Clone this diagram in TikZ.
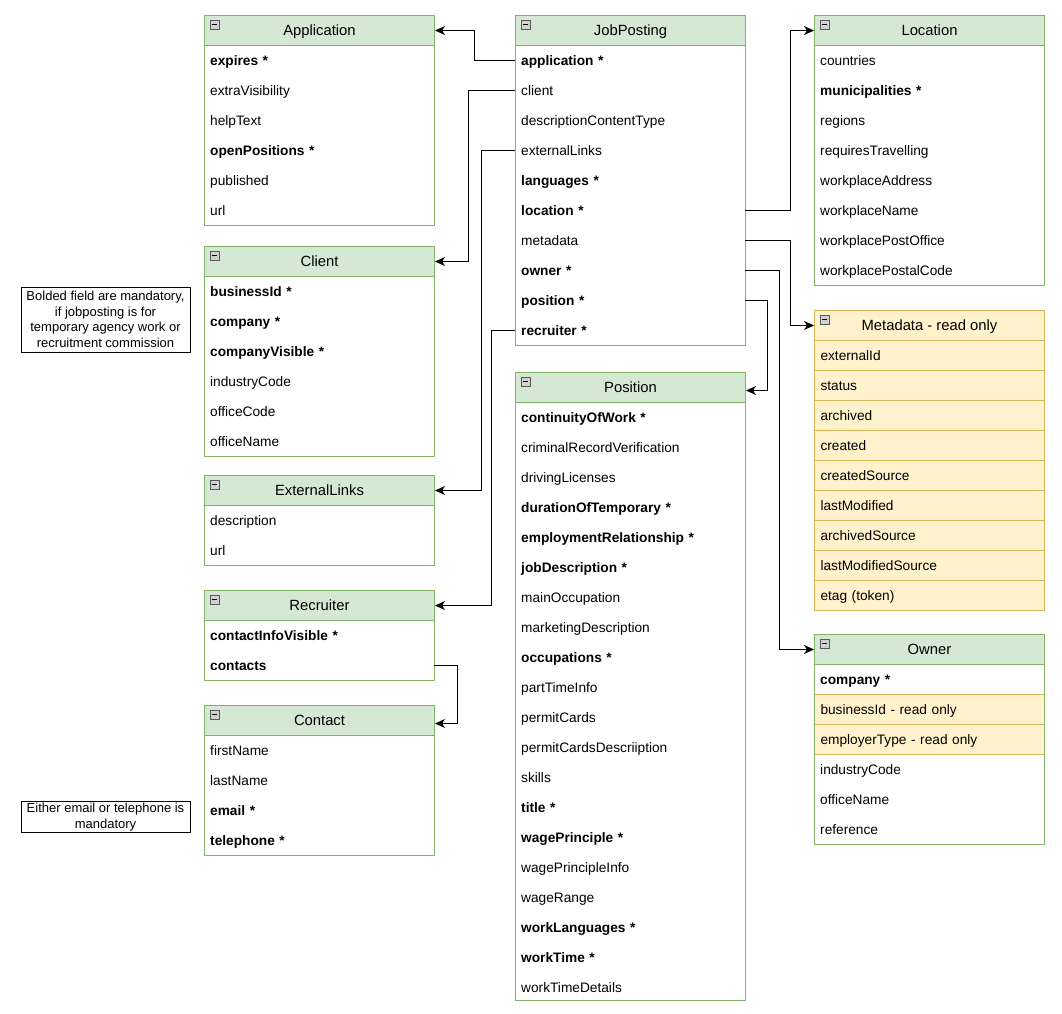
\documentclass[tikz,border=0pt]{standalone}
\usepackage{fontspec}
\setmainfont{Liberation Sans}
\usetikzlibrary{arrows.meta,positioning}
\definecolor{hdfill}{HTML}{D5E8D4}
\definecolor{hdline}{HTML}{82B366}
\definecolor{rofill}{HTML}{FFF2CC}
\definecolor{roline}{HTML}{D6B656}
\tikzset{
  boxln/.style={draw=hdline, line width=1pt},
  hd/.style={boxln, fill=hdfill, minimum width=230pt, minimum height=30pt,
    anchor=north west, inner sep=0pt, text height=12pt, text depth=1.5pt,
    font=\fontsize{14.8}{17}\selectfont},
  rohd/.style={hd, draw=roline, fill=rofill},
  fld/.style={minimum width=230pt, minimum height=30pt, text width=218pt,
    inner xsep=6pt, inner ysep=0pt, align=left, anchor=north west,
    text height=12pt, text depth=1.5pt, font=\fontsize{13.7}{16}\selectfont},
  rofld/.style={fld, draw=roline, fill=rofill, line width=1pt},
  note/.style={draw, line width=0.8pt, align=center, inner sep=2pt,
    font=\fontsize{13}{15.5}\selectfont},
  link/.style={-{Stealth[length=10pt,width=9pt,inset=3pt]}, line width=1pt},
}
\newcommand{\collapse}[1]{%
  \draw[gray!70!black, fill=gray!35, line width=0.6pt]
    ([shift={(6,5)}]#1.north west) rectangle ++(9,9);
  \draw[line width=1.2pt] ([shift={(7.8,9.5)}]#1.north west) -- ++(5.4,0);
}

\begin{document}
\begin{tikzpicture}[x=1pt, y=-1pt]
  \useasboundingbox (0,0) rectangle (1062,1013);

  % JobPosting
  \draw[boxln, fill=white] (515,15) rectangle (745,345);
  \node[hd] (jp) at (515,15) {JobPosting};
  \collapse{jp}
  \foreach \t [count=\i] in {{\bfseries application *}, client,
      descriptionContentType, externalLinks, {\bfseries languages *},
      {\bfseries location *}, metadata, {\bfseries owner *},
      {\bfseries position *}, {\bfseries recruiter *}}
    \node[fld] (jp-\i) at (515,15+30*\i) {\t};

  % Application
  \draw[boxln, fill=white] (204,15) rectangle (434,225);
  \node[hd] (app) at (204,15) {Application};
  \collapse{app}
  \foreach \t [count=\i] in {{\bfseries expires *}, extraVisibility, helpText,
      {\bfseries openPositions *}, published, url}
    \node[fld] (app-\i) at (204,15+30*\i) {\t};

  % Client
  \draw[boxln, fill=white] (204,246) rectangle (434,456);
  \node[hd] (cli) at (204,246) {Client};
  \collapse{cli}
  \foreach \t [count=\i] in {{\bfseries businessId *}, {\bfseries company *},
      {\bfseries companyVisible *}, industryCode, officeCode, officeName}
    \node[fld] (cli-\i) at (204,246+30*\i) {\t};

  % ExternalLinks
  \draw[boxln, fill=white] (204,475) rectangle (434,565);
  \node[hd] (ext) at (204,475) {ExternalLinks};
  \collapse{ext}
  \foreach \t [count=\i] in {description, url}
    \node[fld] (ext-\i) at (204,475+30*\i) {\t};

  % Recruiter
  \draw[boxln, fill=white] (204,590) rectangle (434,680);
  \node[hd] (rec) at (204,590) {Recruiter};
  \collapse{rec}
  \foreach \t [count=\i] in {{\bfseries contactInfoVisible *}, {\bfseries contacts}}
    \node[fld] (rec-\i) at (204,590+30*\i) {\t};

  % Contact
  \draw[boxln, fill=white] (204,705) rectangle (434,855);
  \node[hd] (con) at (204,705) {Contact};
  \collapse{con}
  \foreach \t [count=\i] in {firstName, lastName, {\bfseries email *},
      {\bfseries telephone *}}
    \node[fld] (con-\i) at (204,705+30*\i) {\t};

  % Position
  \draw[boxln, fill=white] (515,372) rectangle (745,1000);
  \node[hd] (pos) at (515,372) {Position};
  \collapse{pos}
  \foreach \t [count=\i] in {{\bfseries continuityOfWork *},
      criminalRecordVerification, drivingLicenses,
      {\bfseries durationOfTemporary *}, {\bfseries employmentRelationship *},
      {\bfseries jobDescription *}, mainOccupation, marketingDescription,
      {\bfseries occupations *}, partTimeInfo, permitCards,
      permitCardsDescriiption, skills, {\bfseries title *},
      {\bfseries wagePrinciple *}, wagePrincipleInfo, wageRange,
      {\bfseries workLanguages *}, {\bfseries workTime *}, workTimeDetails}
    \node[fld] (pos-\i) at (515,372+30*\i) {\t};

  % Location
  \draw[boxln, fill=white] (814,15) rectangle (1044,285);
  \node[hd] (loc) at (814,15) {Location};
  \collapse{loc}
  \foreach \t [count=\i] in {countries, {\bfseries municipalities *}, regions,
      requiresTravelling, workplaceAddress, workplaceName,
      workplacePostOffice, workplacePostalCode}
    \node[fld] (loc-\i) at (814,15+30*\i) {\t};

  % Metadata (read only)
  \foreach \t [count=\i] in {externalId, status, archived, created,
      createdSource, lastModified, archivedSource, lastModifiedSource,
      etag (token)}
    \node[rofld] (meta-\i) at (814,310+30*\i) {\t};
  \node[rohd] (meta) at (814,310) {Metadata - read only};
  \collapse{meta}

  % Owner
  \draw[boxln, fill=white] (814,634) rectangle (1044,844);
  \node[fld] (own-1) at (814,664) {\bfseries company *};
  \node[rofld] (own-2) at (814,694) {businessId - read only};
  \node[rofld] (own-3) at (814,724) {employerType - read only};
  \foreach \t [count=\i from 4] in {industryCode, officeName, reference}
    \node[fld] (own-\i) at (814,634+30*\i) {\t};
  \draw[boxln] (814,634) rectangle (1044,844);
  \node[hd] (own) at (814,634) {Owner};
  \collapse{own}

  % notes
  \node[note, minimum width=169pt, minimum height=65pt] (mand) at (105.5,319.5)
    {Bolded field are mandatory,\\ if jobposting is for\\
     temporary agency work or\\ recruitment commission};
  \node[note, minimum width=169pt, minimum height=30pt] (either) at (105.5,817)
    {Either email or telephone is\\ mandatory};

  % links
  \draw[link] (jp-1.west) -- ++(-41,0) |- (app.east);
  \draw[link] (jp-2.west) -- ++(-47,0) |- (cli.east);
  \draw[link] (jp-4.west) -- ++(-34,0) |- (ext.east);
  \draw[link] (jp-10.west) -- ++(-24,0) |- (rec.east);
  \draw[link] (rec-2.east) -- ++(23,0) |- ([yshift=-3]con.east);
  \draw[link] (jp-6.east) -- ++(45,0) |- (loc.west);
  \draw[link] (jp-7.east) -- ++(45,0) |- (meta.west);
  \draw[link] (jp-8.east) -- ++(34,0) |- (own.west);
  \draw[link] (jp-9.east) -- ++(22,0) |- ([yshift=-3]pos.east);
\end{tikzpicture}
\end{document}
